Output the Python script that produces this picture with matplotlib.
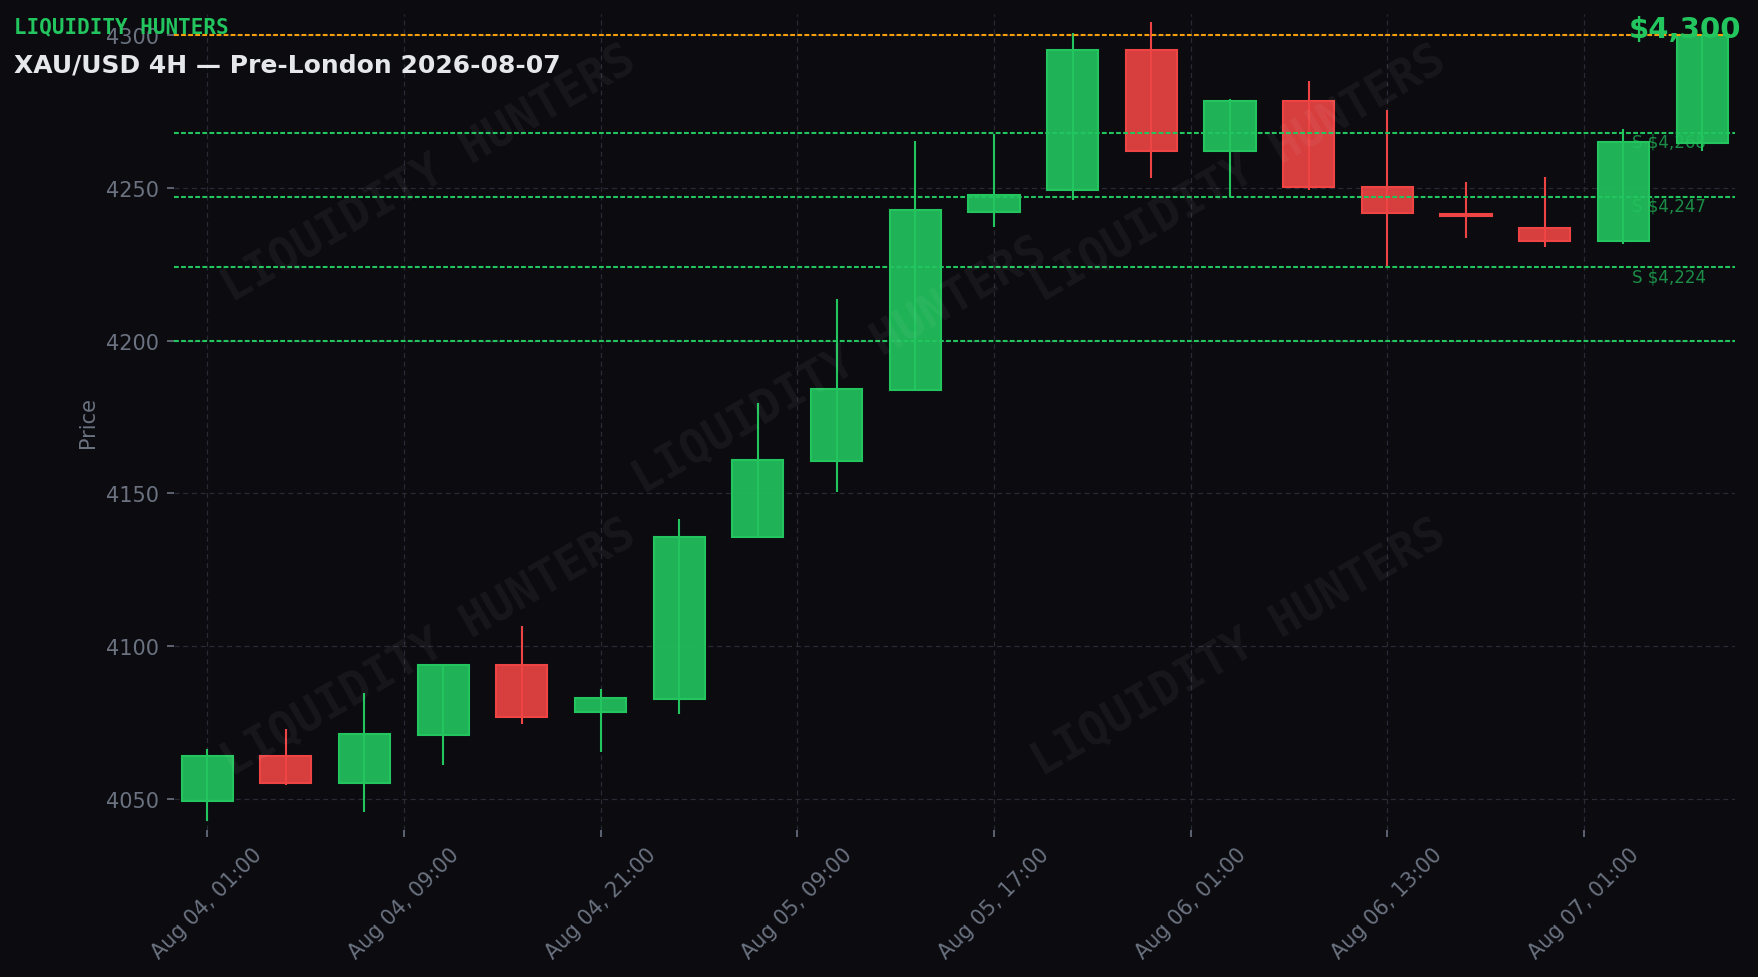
import matplotlib
matplotlib.use("Agg")
import matplotlib.pyplot as plt
from matplotlib.ticker import MultipleLocator
from matplotlib.transforms import blended_transform_factory

# 4H candles, XAU/USD
opens = [4049.2, 4064.0, 4055.1, 4070.8, 4093.7, 4078.4, 4082.6, 4135.6, 4160.5, 4184.0,
         4242.2, 4249.4, 4295.2, 4261.9, 4278.5, 4250.4, 4241.3, 4237.0, 4232.6, 4264.8]
highs = [4066.4, 4072.9, 4084.7, 4094.0, 4106.6, 4086.0, 4141.6, 4179.5, 4213.6, 4265.2,
         4267.6, 4300.6, 4304.2, 4279.0, 4284.9, 4275.4, 4251.9, 4253.6, 4269.2, 4300.4]
lows = [4042.9, 4054.7, 4045.8, 4061.2, 4074.5, 4065.5, 4077.8, 4135.3, 4150.5, 4183.8,
        4237.2, 4246.0, 4253.2, 4247.1, 4249.3, 4223.6, 4233.6, 4230.5, 4231.6, 4262.1]
closes = [4064.0, 4055.1, 4071.2, 4093.7, 4077.0, 4082.9, 4135.8, 4160.8, 4184.3, 4242.6,
          4247.5, 4295.2, 4262.1, 4278.5, 4250.1, 4241.6, 4240.8, 4232.6, 4265.1, 4300.0]

tick_pos = [0, 2.5, 5, 7.5, 10, 12.5, 15, 17.5]
tick_labels = ["Aug 04, 01:00", "Aug 04, 09:00", "Aug 04, 21:00", "Aug 05, 09:00",
               "Aug 05, 17:00", "Aug 06, 01:00", "Aug 06, 13:00", "Aug 07, 01:00"]

support_levels = [4268, 4247, 4224]
round_level = 4200
target_level = 4300

BG = "#0b0b10"
GREEN = "#22c55e"
RED = "#ef4444"
GREY = "#6b7280"

fig = plt.figure(figsize=(11.72, 6.52), dpi=150, facecolor=BG)
ax = fig.add_axes([0.099, 0.1507, 0.888, 0.8344], facecolor=BG)

x = list(range(len(opens)))
up = [c >= o for o, c in zip(opens, closes)]
edge = [GREEN if u else RED for u in up]
face = [(0.133, 0.773, 0.369, 0.9) if u else (0.937, 0.267, 0.267, 0.9) for u in up]
heights = [max(abs(c - o), 0.4) for o, c in zip(opens, closes)]
bottoms = [min(o, c) for o, c in zip(opens, closes)]

ax.bar(x, heights, bottom=bottoms, width=0.65, color=face, edgecolor=edge, linewidth=1.0)
ax.vlines(x, lows, highs, colors=edge, linewidth=1.0)

# levels
dash = (0, (2.3, 1.1))
lbl_tr = blended_transform_factory(ax.transAxes, ax.transData)
for lvl in support_levels:
    ax.axhline(lvl, color=GREEN, lw=1.0, ls=dash)
    ax.text(0.934, lvl, f"S ${lvl:,}", transform=lbl_tr, color=GREEN, alpha=0.7,
            fontsize=8, ha="left", va="top")
ax.axhline(round_level, color=GREEN, lw=1.0, ls=dash)
ax.axhline(target_level, color="#f59e0b", lw=1.0, ls=dash)

ax.set_xlim(-0.42, len(opens) - 0.58)
ax.set_ylim(4040, 4307)
ax.yaxis.set_major_locator(MultipleLocator(50))
ax.set_xticks(tick_pos)
ax.set_xticklabels(tick_labels, rotation=45)
ax.tick_params(axis="x", colors=GREY, labelsize=10)
ax.tick_params(axis="y", colors=GREY, labelsize=10)
ax.set_ylabel("Price", color=GREY, fontsize=10)
ax.set_axisbelow(True)
ax.grid(True, color="#2a2a35", lw=0.6, ls=(0, (4, 3)))
for s in ax.spines.values():
    s.set_visible(False)

# header texts
fig.text(0.008, 0.966, "LIQUIDITY HUNTERS", color=GREEN, fontsize=10, fontweight="bold",
         family="DejaVu Sans Mono", va="baseline")
fig.text(0.008, 0.9257, "XAU/USD 4H \u2014 Pre-London 2026-08-07", color="#e5e7eb",
         fontsize=12, fontweight="bold", va="baseline")
fig.text(0.9903, 0.9608, f"${target_level:,}", color=GREEN, fontsize=14, fontweight="bold",
         ha="right", va="baseline")

# watermark
for wx, wy in [(0.244, 0.822), (0.705, 0.822), (0.478, 0.625), (0.244, 0.337), (0.705, 0.337)]:
    fig.text(wx, wy, "LIQUIDITY HUNTERS", color="white", alpha=0.05, fontsize=22,
             fontweight="bold", family="DejaVu Sans Mono", rotation=30,
             ha="center", va="center")

fig.savefig("out.png", dpi=150, facecolor=BG)
